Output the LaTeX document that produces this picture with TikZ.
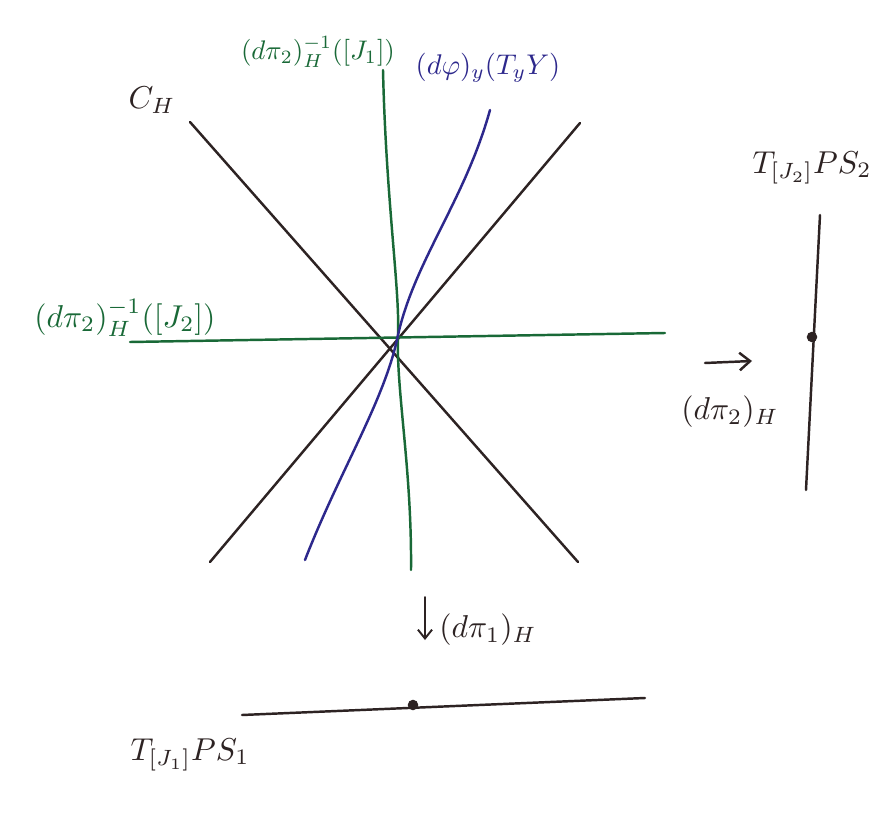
\documentclass[tikz,border=0pt]{standalone}
\usetikzlibrary{arrows.meta}
\definecolor{inkc}{RGB}{45,35,35}
\definecolor{greenc}{RGB}{25,105,55}
\definecolor{bluec}{RGB}{45,40,140}
\begin{document}
\begin{tikzpicture}[x=0.02cm,y=-0.02cm,
  ink/.style={draw=inkc,line width=1.4pt,line cap=round},
  gline/.style={draw=greenc,line width=1.4pt,line cap=round},
  bline/.style={draw=bluec,line width=1.4pt,line cap=round},
  lbl/.style={inner sep=0pt,scale=1.8},
  dotn/.style={circle,fill=inkc,inner sep=0pt,minimum size=6pt}]
\useasboundingbox[fill=white] (0,0) rectangle (894,835);
% coordinates
\coordinate (O) at (398,335);
\coordinate (ch1) at (190,122);
\coordinate (ch2) at (578,562);
\coordinate (bl1) at (210,562);
\coordinate (bl2) at (580,123);
\coordinate (gh1) at (130,342);
\coordinate (gh2) at (665,333);
\coordinate (gv1) at (383,70);
\coordinate (gv2) at (411,570);
\coordinate (bc1) at (305,560);
\coordinate (bc2) at (490,110);
\coordinate (r1) at (820,215);
\coordinate (r2) at (806,490);
\coordinate (h1) at (242,715);
\coordinate (h2) at (645,698);
\coordinate (ar1) at (705,363);
\coordinate (ar2) at (752,361);
\coordinate (ad1) at (425,597);
\coordinate (ad2) at (425,640);
% cone lines
\draw[ink] (ch1) -- (ch2);
\draw[ink] (bl1) -- (bl2);
% green lines
\draw[gline] (gh1) -- (gh2);
\draw[gline] (gv1) .. controls (386,200) and (400,290) .. (O)
  .. controls (396,390) and (412,470) .. (gv2);
% blue curve
\draw[bline] (bc1) .. controls (340,470) and (385,400) .. (O)
  .. controls (415,260) and (465,200) .. (bc2);
% right and bottom lines
\draw[ink] (r1) -- (r2);
\node[dotn] (rdot) at (812,337) {};
\draw[ink] (h1) -- (h2);
\node[dotn] (hdot) at (413,705) {};
% arrows
\draw[ink,-{Straight Barb[length=6pt,width=10pt]}] (ar1) -- (ar2);
\draw[ink,line width=1.1pt,-{Straight Barb[length=5pt,width=8pt]}] (ad1) -- (ad2);
% labels
\node[lbl,text=inkc] (lch) at (152,100) {$C_H$};
\node[lbl,text=greenc,scale=0.85] (lj1) at (318,52) {$(d\pi_2)_H^{-1}([J_1])$};
\node[lbl,text=bluec,scale=0.9] (lphi) at (488,68) {$(d\varphi)_y(T_yY)$};
\node[lbl,text=greenc] (lj2) at (125,318) {$(d\pi_2)_H^{-1}([J_2])$};
\node[lbl,text=inkc] (lps2) at (812,168) {$T_{[J_2]}PS_2$};
\node[lbl,text=inkc] (lpi2) at (730,412) {$(d\pi_2)_H$};
\node[lbl,text=inkc] (lpi1) at (488,630) {$(d\pi_1)_H$};
\node[lbl,text=inkc] (lps1) at (190,755) {$T_{[J_1]}PS_1$};
\end{tikzpicture}
\end{document}
